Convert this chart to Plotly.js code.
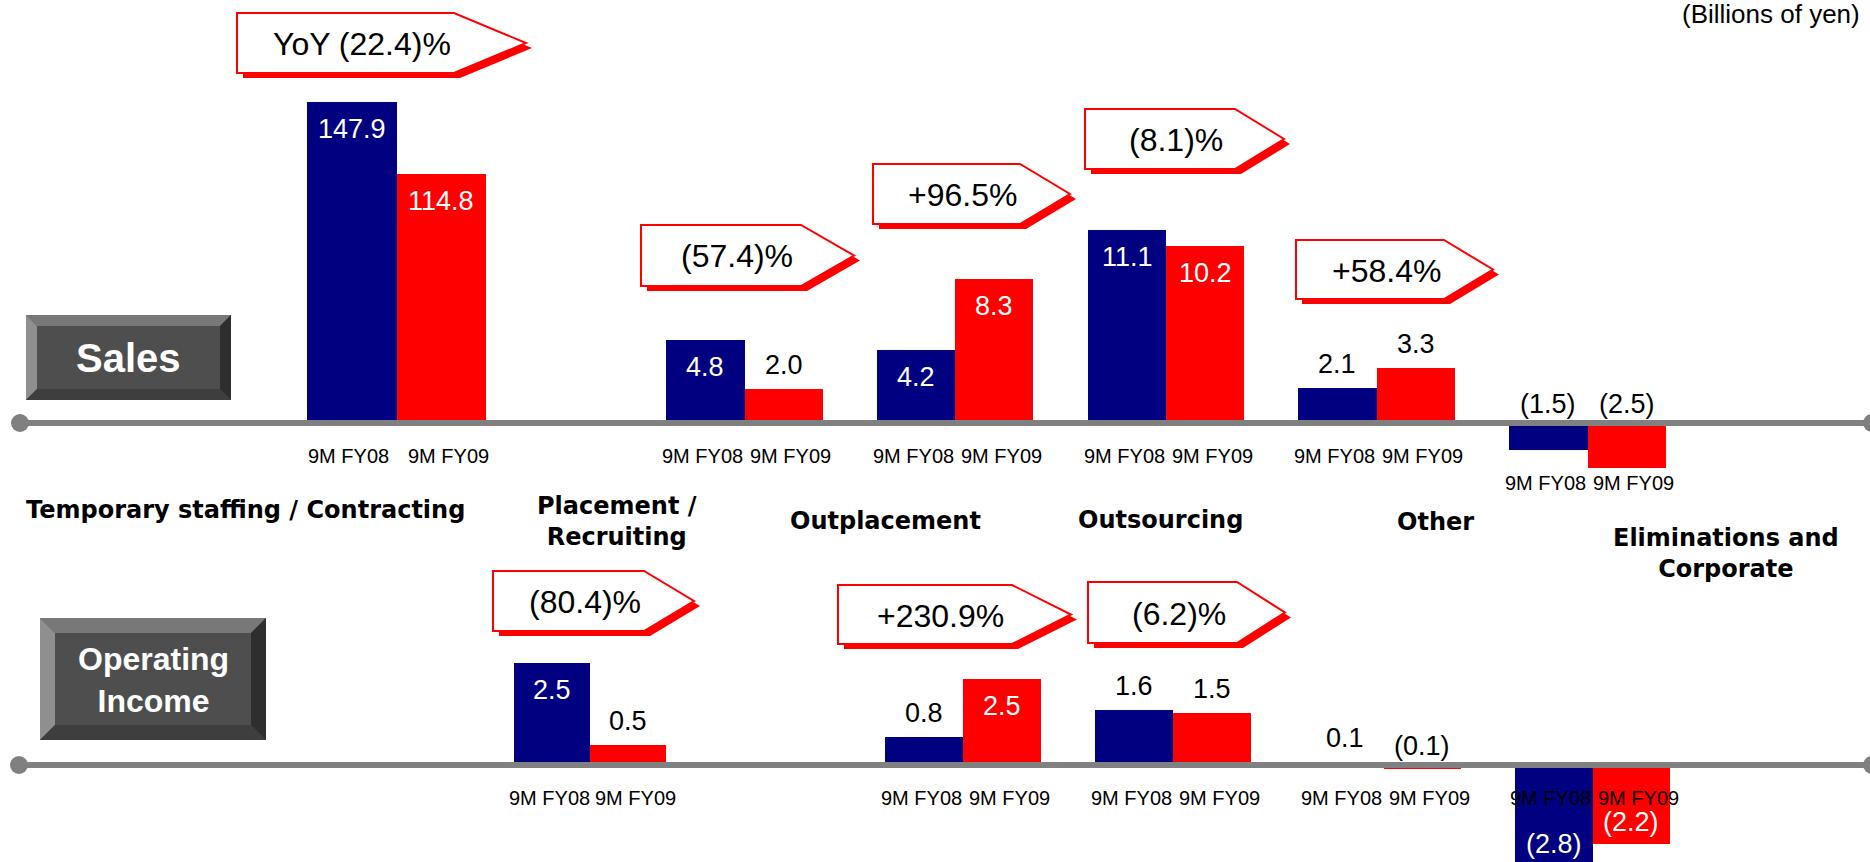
<!DOCTYPE html>
<html><head><meta charset="utf-8">
<script src="https://cdn.plot.ly/plotly-3.0.1.min.js"></script>
<style>html,body{margin:0;padding:0;background:#fff;overflow:hidden}#chart{width:1870px;height:862px}</style>
</head><body><div id="chart"></div>
<script>
// ---------------- data ----------------
const periods = ['9M FY08', '9M FY09'];
const segments = ['Temporary staffing / Contracting', 'Placement /<br>Recruiting', 'Outplacement', 'Outsourcing', 'Other', 'Eliminations and<br>Corporate'];
const salesFY08 = [147.9, 4.8, 4.2, 11.1, 2.1, -1.5];
const salesFY09 = [114.8, 2.0, 8.3, 10.2, 3.3, -2.5];
const salesYoY = ['YoY (22.4)%', '(57.4)%', '+96.5%', '(8.1)%', '+58.4%', null];
const oiFY08 = [null, 2.5, 0.8, 1.6, 0.1, -2.8];
const oiFY09 = [null, 0.5, 2.5, 1.5, -0.1, -2.2];
const oiYoY = [null, '(80.4)%', '+230.9%', '(6.2)%', null, null];
const panelTitles = ['Sales', 'Operating<br>Income'];
const unitNote = '(Billions of yen)';
const seriesColors = ['#000080', '#ff0000'];

// ---------------- layout config (pixels) ----------------
const W = 1870, H = 862;
const REG = '"Liberation Sans", Arial, sans-serif';
const tickShift = [-3, 7];
const panels = [
  { fy08: salesFY08, fy09: salesFY09, yoy: salesYoY, zeroPx: 423, domPx: [0, 500],
    barPx: [[307,486],[666,823],[877,1033],[1088,1244],[1298,1455],[1509,1666]],
    scale: [2.17, 17.2, 17.3, 17.4, 16.8, 18.0],
    tickPx: [456,456,456,456,456,483],
    callout: [[237,13,454,526,73],[641,225,801,854,286],[873,164,1020,1070,224],[1085,109,1235,1284,169],[1296,240,1444,1493,299],null],
    box: [26,315,231,400,11], titlePx: [128,358], titleSize: 40, dotX: 20 },
  { fy08: oiFY08, fy09: oiFY09, yoy: oiYoY, zeroPx: 765, domPx: [560, 862],
    barPx: [null,[514,666],[885,1041],[1095,1251],[1306,1461],[1515,1670]],
    scale: [null, 41, 34.5, 34.5, 35, 36],
    tickPx: [798,798,798,798,798,798],
    callout: [null,[493,571,644,694,631],[838,585,1012,1071,644],[1088,582,1237,1285,643],null,null],
    box: [40,618,266,740,15], titlePx: [153,680], titleSize: 32, dotX: 19 }
];
const catLabelPx = [[245,510],[617,521],[885,521],[1160,520],[1435,522],[1726,553]];

const X = px => px / W;
const Y = py => 1 - py / H;
const fmt = v => v < 0 ? '(' + Math.abs(v).toFixed(1) + ')' : v.toFixed(1);

const traces = [], shapes = [], annotations = [];
const layout = {
  width: W, height: H, margin: {l:0, r:0, t:0, b:0},
  paper_bgcolor: '#fff', plot_bgcolor: 'rgba(0,0,0,0)',
  showlegend: false, bargap: 0, barmode: 'group'
};

let k = 0;
panels.forEach((p, pi) => {
  // bevelled title box
  const [bx0, by0, bx1, by1, b] = p.box;
  const poly = (pts, col) => shapes.push({type:'path', xref:'paper', yref:'paper', layer:'below',
    path: 'M' + pts.map(q => X(q[0]) + ',' + Y(q[1])).join('L') + 'Z', fillcolor: col, line:{width:0}});
  poly([[bx0,by0],[bx1,by0],[bx1,by1],[bx0,by1]], '#4e4e4e');
  poly([[bx0,by0],[bx1,by0],[bx1-b,by0+b],[bx0+b,by0+b]], '#787878');
  poly([[bx0,by0],[bx0+b,by0+b],[bx0+b,by1-b],[bx0,by1]], '#8f8f8f');
  poly([[bx0,by1],[bx0+b,by1-b],[bx1-b,by1-b],[bx1,by1]], '#3e3e3e');
  poly([[bx1,by0],[bx1,by1],[bx1-b,by1-b],[bx1-b,by0+b]], '#2e2e2e');
  annotations.push({xref:'paper', yref:'paper', x: X(p.titlePx[0]), y: Y(p.titlePx[1]),
    text: panelTitles[pi], showarrow:false, xanchor:'center', yanchor:'middle',
    font:{family: REG, size: p.titleSize, color:'#fff', weight: 'bold'}});

  // zero line with rounded ends
  shapes.push({type:'line', xref:'paper', yref:'paper', layer:'above', x0: X(p.dotX), x1: 1, y0: Y(p.zeroPx), y1: Y(p.zeroPx),
    line:{color:'#808080', width:6}});
  [p.dotX, W + 2].forEach(cx => shapes.push({type:'circle', xref:'paper', yref:'paper', layer:'above',
    x0: X(cx-9), x1: X(cx+9), y0: Y(p.zeroPx+9), y1: Y(p.zeroPx-9), fillcolor:'#808080', line:{width:0}}));

  segments.forEach((seg, i) => {
    if (p.fy08[i] === null) return;
    k++;
    const xa = 'xaxis' + (k === 1 ? '' : k), ya = 'yaxis' + (k === 1 ? '' : k);
    const xr = 'x' + (k === 1 ? '' : k), yr = 'y' + (k === 1 ? '' : k);
    const s = p.scale[i];
    const yMin = -(p.domPx[1]-p.zeroPx)/s, yMax = (p.zeroPx-p.domPx[0])/s;
    layout[xa] = {domain:[X(p.barPx[i][0]), X(p.barPx[i][1])], type:'category', categoryarray: periods,
      range:[-0.5, 1.5], visible:false, anchor: yr, fixedrange:true};
    layout[ya] = {domain:[Y(p.domPx[1]), Y(p.domPx[0])], range:[yMin, yMax],
      visible:false, anchor: xr, fixedrange:true};
    const vals = [p.fy08[i], p.fy09[i]];
    traces.push({type:'bar', x: periods, y: vals, xaxis: xr, yaxis: yr,
      marker:{color: seriesColors, line:{width:0}}, hoverinfo:'skip'});
    vals.forEach((v, j) => {
      const inside = Math.abs(v) * s > 60;
      const lab = {x: periods[j], xref: xr, text: fmt(v), showarrow:false, xanchor:'center', yanchor:'middle',
        font:{family: REG, size: 27, color: inside ? '#fff' : '#000'}};
      if (inside && v < yMin) {
        // bar end lies beyond the visible axis range: place label through the same axis scale in paper units
        lab.yref = 'paper'; lab.y = Y(p.zeroPx - v * s); lab.yshift = 22;
      } else {
        lab.yref = yr; lab.y = inside ? v : Math.max(v, 0);
        lab.yshift = inside ? (v >= 0 ? -27 : 22) : (v >= 0 ? 24 : 19);
      }
      annotations.push(lab);
      annotations.push({xref: xr, yref:'paper', x: periods[j], y: Y(p.tickPx[i]), xshift: tickShift[j],
        text: periods[j], showarrow:false, xanchor:'center', yanchor:'middle',
        font:{family: REG, size: 20, color:'#000'}});
    });
    // YoY callout
    const c = p.callout[i];
    if (c && p.yoy[i]) {
      const [L, T, R, tip, B] = c, M = (T + B) / 2;
      const pent = (dx, dy) => 'M' + [[L,T],[R,T],[tip,M],[R,B],[L,B]].map(q => X(q[0]+dx) + ',' + Y(q[1]+dy)).join('L') + 'Z';
      shapes.push({type:'path', xref:'paper', yref:'paper', layer:'above', path: pent(6,5), fillcolor:'#ff0000', line:{width:0}});
      shapes.push({type:'path', xref:'paper', yref:'paper', layer:'above', path: pent(0,0), fillcolor:'#ffffff', line:{color:'#ff0000', width:2}});
      annotations.push({xref:'paper', yref:'paper', x: X((L+R)/2 + 16), y: Y(M + 1), text: p.yoy[i],
        showarrow:false, xanchor:'center', yanchor:'middle', font:{family: REG, size: 32, color:'#000'}});
    }
  });
});

// segment names
segments.forEach((seg, i) => annotations.push({xref:'paper', yref:'paper', x: X(catLabelPx[i][0]), y: Y(catLabelPx[i][1]),
  text: seg, showarrow:false, xanchor:'center', yanchor:'middle',
  font:{family:'"DejaVu Sans", sans-serif', size: 24, color:'#000', weight:'bold'}}));

// unit note
annotations.push({xref:'paper', yref:'paper', x: X(1862), y: Y(14), text: unitNote, showarrow:false,
  xanchor:'right', yanchor:'middle', font:{family: REG, size: 26, color:'#000'}});

layout.shapes = shapes;
layout.annotations = annotations;
Plotly.newPlot('chart', traces, layout, {staticPlot:true, displayModeBar:false});
</script></body></html>
